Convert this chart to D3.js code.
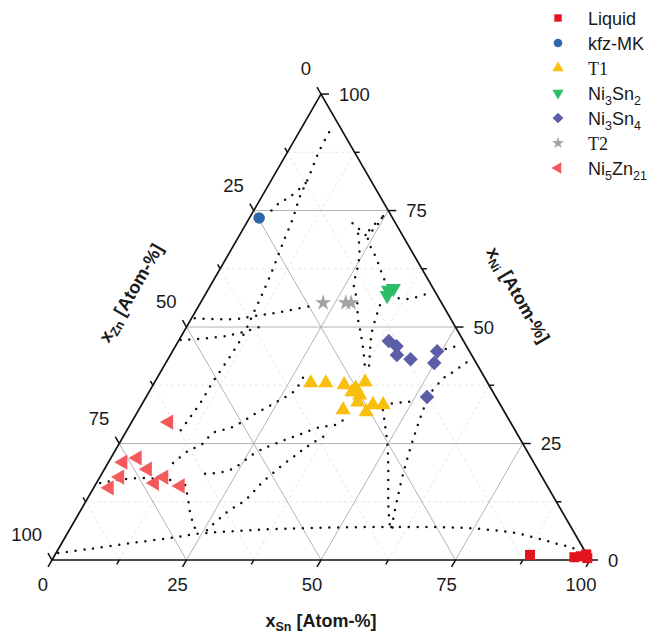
<!DOCTYPE html>
<html>
<head>
<meta charset="utf-8">
<script src="https://cdn.jsdelivr.net/npm/d3@7"></script>
<style>
body { margin: 0; background: #fff; }
svg text { font-family: "Liberation Sans", Arial, sans-serif; fill: #1a1a1a; }
</style>
</head>
<body>
<svg id="chart" width="655" height="637"></svg>
<script>
// every point is [x_Sn, x_Ni] in Atom-%, x_Zn = 100 - x_Sn - x_Ni
var liquid = [[88.3,1.1],[96.8,0.6],[97.9,0.8],[98.7,1.2],[99.3,0.4]];
var kfzMK = [[1.8,73.4]];
var t1 = [[29.1,38.0],[31.9,38.0],[35.5,37.6],[39.1,38.2],[37.7,36.1],[39.5,35.4],[38.0,36.9],
          [39.9,33.9],[38.0,32.2],[42.5,31.8],[43.0,33.3],[44.9,33.3]];
var ni3sn2 = [[33.6,57.9],[34.3,58.3],[33.9,56.8]];
var ni3sn4 = [[39.1,47.0],[41.1,45.9],[42.1,44.0],[45.1,43.1],[49.2,44.8],[49.9,42.3],[52.2,35.0]];
var t2 = [[22.8,55.2],[27.0,55.2],[28.0,55.2]];
var ni5zn21 = [[6.9,29.6],[4.9,21.9],[2.7,21.0],[8.0,19.5],[3.7,17.8],[2.9,15.5],[10.8,16.5],[11.9,17.8],[15.9,15.9]];

// dotted phase boundaries
var boundaries = [
  [[0.4,1.5],[5.9,2.4],[12.7,3.6],[19.5,4.7],[24.2,5.6],[33.6,6.4],[45.5,6.9],[61.2,7.1],[73.0,6.9],
   [78.8,6.4],[83.2,5.8],[87.7,4.7],[91.7,3.6],[95.4,2.6],[98.6,1.1]],
  [[45.4,32.2],[47.4,29.0],[50.0,24.7],[52.3,20.4],[55.0,15.0],[57.2,10.7],[59.4,6.9]],
  [[52.5,34.3],[53.5,29.0],[54.7,23.6],[56.1,18.2],[57.7,12.9],[59.1,8.6],[59.8,7.0]],
  [[5.6,91.8],[5.8,87.6],[6.6,82.4],[7.1,77.9],[8.1,73.4],[8.8,68.7],[9.6,63.9],[10.3,59.0],[10.9,53.6],
   [11.4,48.3],[11.2,42.9],[10.8,38.2],[10.7,33.7],[10.3,30.0],[9.8,26.4]],
  [[16.7,16.1],[18.6,13.3],[20.5,10.3],[22.6,7.5],[24.3,5.6]],
  [[0.7,16.5],[3.7,17.2],[7.6,17.6],[11.4,17.4],[14.9,17.0]],
  [[12.1,20.8],[13.6,23.4],[15.5,24.9],[16.3,27.3],[18.9,28.3],[20.5,29.6],[21.8,31.1],[23.6,32.8],
   [25.2,34.3],[26.9,36.3],[27.1,39.1]],
  [[19.2,18.5],[23.4,19.3],[26.5,23.2],[29.2,25.1],[32.3,26.8],[35.5,28.5],[38.1,29.0],[39.5,30.7]],
  [[25.6,6.4],[27.4,10.3],[29.5,12.9],[30.8,16.7],[32.7,20.4],[34.5,23.2],[35.9,25.1],[38.1,27.3]],
  [[0.6,51.9],[8.1,51.7],[11.5,52.4],[14.9,53.0],[21.5,54.7]],
  [[0.3,47.2],[7.3,47.9],[11.0,48.9],[14.5,50.5]],
  [[24.6,73.4],[23.6,70.2],[25.3,67.6],[27.7,65.0],[31.4,60.5],[33.2,58.6]],
  [[21.9,70.0],[24.3,65.7],[25.6,62.2],[26.6,59.0],[28.8,55.8],[30.9,51.9],[32.9,48.9],[35.3,45.1],[37.8,40.8]],
  [[33.6,54.7],[35.0,48.9],[36.8,44.6],[38.8,40.1]],
  [[44.9,33.3],[47.0,33.7],[49.1,33.9],[50.8,34.3]],
  [[52.2,35.0],[53.4,39.3],[54.3,40.3],[55.9,42.5]],
  [[49.2,44.8],[52.3,45.9]],
  [[6.7,80.9],[5.2,77.9],[3.8,76.4],[3.0,74.0]],
  [[19.7,72.3],[21.6,71.0],[23.7,69.7],[24.2,70.8],[24.5,71.9],[24.7,74.5]],
  [[34.5,57.0],[36.2,56.2],[38.6,56.1],[41.3,57.3]]
];

var majorTicks = [0, 25, 50, 75, 100];
var minorTicks = [12.5, 37.5, 62.5, 87.5];
var gridMajor = [25, 50, 75];

var svg = d3.select('#chart');
var x0 = 52, y0 = 560, side = 538;
var h = side * Math.sqrt(3) / 2;
var sx = d3.scaleLinear().domain([0, 100]).range([0, side]);
var sy = d3.scaleLinear().domain([0, 100]).range([y0, y0 - h]);
function pt(sn, ni) { return [x0 + sx(sn + ni / 2), sy(ni)]; }

// grid: constant Ni, constant Sn, constant Zn
function gridSegs(v) {
  return [[pt(0, v), pt(100 - v, v)], [pt(v, 0), pt(v, 100 - v)], [pt(100 - v, 0), pt(0, 100 - v)]];
}
var grid = svg.append('g');
minorTicks.forEach(function(v) {
  gridSegs(v).forEach(function(s) {
    grid.append('line').attr('x1', s[0][0]).attr('y1', s[0][1]).attr('x2', s[1][0]).attr('y2', s[1][1])
      .style('stroke', '#dedede').style('stroke-width', 0.8).style('stroke-dasharray', '3,3');
  });
});
gridMajor.forEach(function(v) {
  gridSegs(v).forEach(function(s) {
    grid.append('line').attr('x1', s[0][0]).attr('y1', s[0][1]).attr('x2', s[1][0]).attr('y2', s[1][1])
      .style('stroke', '#b4b4b4').style('stroke-width', 1);
  });
});

// dotted boundaries
var line = d3.line().x(function(d) { return pt(d[0], d[1])[0]; }).y(function(d) { return pt(d[0], d[1])[1]; })
  .curve(d3.curveCatmullRom);
svg.append('g').selectAll('path').data(boundaries).enter().append('path')
  .attr('d', line)
  .style('fill', 'none').style('stroke', '#111').style('stroke-width', 2.5)
  .style('stroke-linecap', 'round').style('stroke-dasharray', '0,8.8');

// triangle frame
svg.append('path')
  .attr('d', d3.line()([pt(0, 0), pt(100, 0), pt(0, 100)]) + 'Z')
  .style('fill', 'none').style('stroke', '#111').style('stroke-width', 1.7);

// ticks
var axes = svg.append('g').style('stroke', '#111').style('stroke-width', 1.5);
function tick(p, dx, dy, len) {
  axes.append('line').attr('x1', p[0]).attr('y1', p[1]).attr('x2', p[0] + dx * len).attr('y2', p[1] + dy * len);
}
var c = 0.5, s3 = Math.sqrt(3) / 2;
majorTicks.forEach(function(v) {
  tick(pt(v, 0), -c, s3, 8);          // Sn, bottom
  tick(pt(0, 100 - v), -c, -s3, 8);   // Zn, left
  tick(pt(100 - v, v), 1, 0, 8);      // Ni, right
});
minorTicks.forEach(function(v) {
  tick(pt(v, 0), -c, s3, 5);
  tick(pt(0, 100 - v), -c, -s3, 5);
  tick(pt(100 - v, v), 1, 0, 5);
});

// tick labels
var lab = svg.append('g').style('font-size', '18.5px');
majorTicks.forEach(function(v) {
  var p = pt(v, 0);
  lab.append('text').attr('x', p[0] - 9).attr('y', p[1] + 31).attr('text-anchor', 'middle').text(v);
  p = pt(0, 100 - v);
  lab.append('text').attr('x', p[0] - 10).attr('y', p[1] - 19).attr('text-anchor', 'end').text(v);
  p = pt(100 - v, v);
  lab.append('text').attr('x', p[0] + 18).attr('y', p[1] + 6.5).attr('text-anchor', 'start').text(v);
});

// axis titles
function title(tx, ty, rot, sub) {
  var t = svg.append('text').attr('transform', 'translate(' + tx + ',' + ty + ') rotate(' + rot + ')')
    .attr('text-anchor', 'middle').attr('dy', 6).style('font-weight', 'bold').style('font-size', '18px');
  t.append('tspan').text('x');
  t.append('tspan').attr('dy', 4).style('font-size', '12.5px').text(sub);
  t.append('tspan').attr('dy', -4).text(' [Atom-%]');
}
title(321, 621, 0, 'Sn');
title(131, 293, -60, 'Zn');
title(518, 295, 60, 'Ni');

// phases
var phases = [
  { name: [['Liquid', 0]], data: liquid, type: d3.symbolSquare, size: 100, rot: 0, color: '#e3141b' },
  { name: [['kfz-MK', 0]], data: kfzMK, type: d3.symbolCircle, size: 105, rot: 0, color: '#2e68ab' },
  { name: [['T1', 0]], data: t1, type: d3.symbolTriangle, size: 100, rot: 0, color: '#f8bf0c', serif: true },
  { name: [['Ni', 0], ['3', 1], ['Sn', 0], ['2', 1]], data: ni3sn2, type: d3.symbolTriangle, size: 100, rot: 180, color: '#2dbd69' },
  { name: [['Ni', 0], ['3', 1], ['Sn', 0], ['4', 1]], data: ni3sn4, type: d3.symbolSquare, size: 105, rot: 45, color: '#5b5da6' },
  { name: [['T2', 0]], data: t2, type: d3.symbolStar, size: 80, rot: 0, color: '#a3a3a3', serif: true },
  { name: [['Ni', 0], ['5', 1], ['Zn', 0], ['21', 1]], data: ni5zn21, type: d3.symbolTriangle, size: 100, rot: -90, color: '#f45a5c' }
];

phases.forEach(function(ph) {
  svg.append('g').selectAll('path').data(ph.data).enter().append('path')
    .attr('d', d3.symbol().type(ph.type).size(ph.size))
    .attr('transform', function(d) { var p = pt(d[0], d[1]); return 'translate(' + p[0] + ',' + p[1] + ') rotate(' + ph.rot + ')'; })
    .style('fill', ph.color);
});

// legend
var legend = svg.append('g');
phases.forEach(function(ph, i) {
  var y = 18 + i * 25;
  legend.append('path')
    .attr('d', d3.symbol().type(ph.type).size(ph.size * 0.55))
    .attr('transform', 'translate(558,' + y + ') rotate(' + ph.rot + ')')
    .style('fill', ph.color);
  var t = legend.append('text').attr('x', 588).attr('y', y + 6.5).style('font-size', '18px');
  if (ph.serif) t.style('font-family', '"Liberation Serif", serif');
  var shifted = 0;
  ph.name.forEach(function(part) {
    var ts = t.append('tspan').text(part[0]);
    if (part[1] && !shifted) { ts.attr('dy', 5).style('font-size', '12.5px'); shifted = 1; }
    else if (!part[1] && shifted) { ts.attr('dy', -5); shifted = 0; }
  });
});
</script>
</body>
</html>
